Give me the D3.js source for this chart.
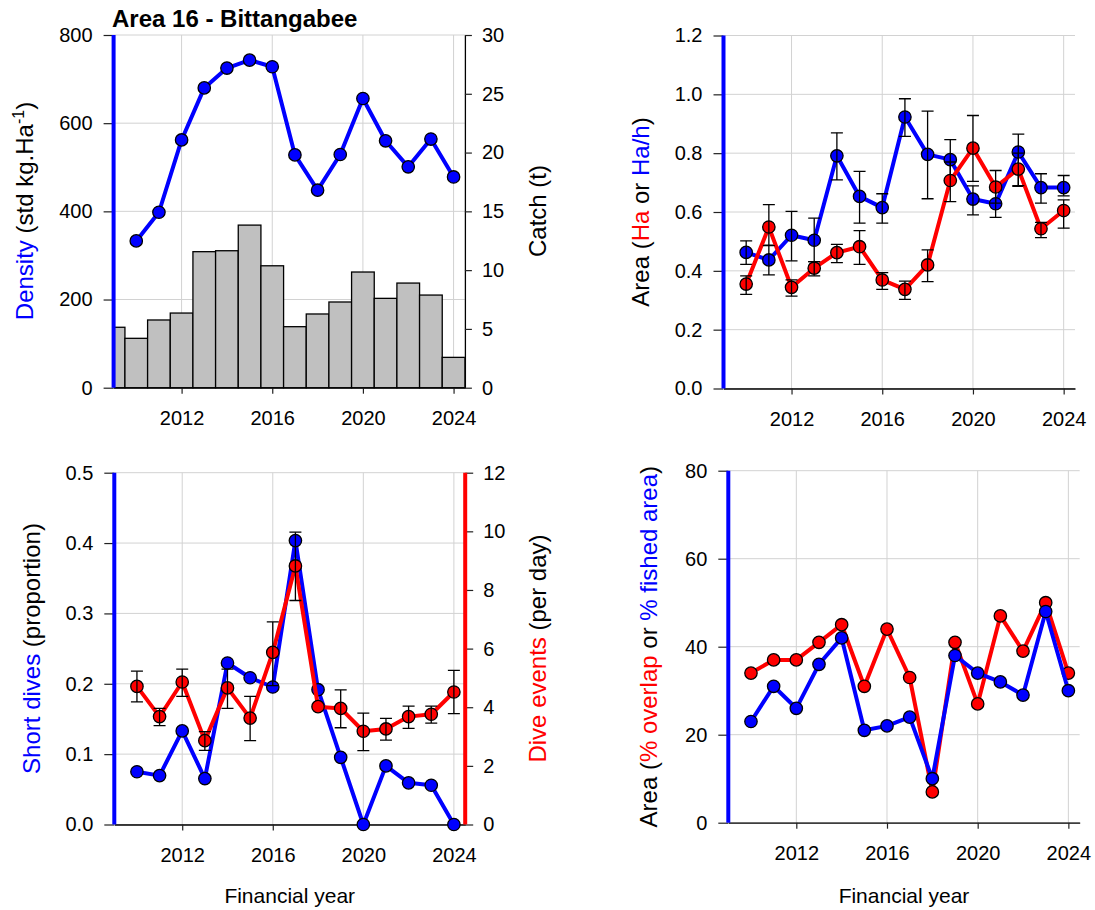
<!DOCTYPE html>
<html lang="en">
<head>
<meta charset="utf-8">
<script src="https://d3js.org/d3.v7.min.js"></script>
<style>
  body { margin: 0; background: #fff; }
  text { font-family: "Liberation Sans", Arial, sans-serif; }
</style>
</head>
<body>
<div id="chart"></div>
<script>
// ---- data ----
const years = [2010, 2011, 2012, 2013, 2014, 2015, 2016, 2017, 2018, 2019, 2020, 2021, 2022, 2023, 2024];
const catchYears = [2009, 2010, 2011, 2012, 2013, 2014, 2015, 2016, 2017, 2018, 2019, 2020, 2021, 2022, 2023, 2024];
const xTicks = [2012, 2016, 2020, 2024];

// top left: density (std kg/Ha) and catch (t)
const density = [333, 398, 562, 680, 725, 743, 728, 528, 448, 529, 656, 560, 501, 564, 478];
const catchT = [5.14, 4.2, 5.76, 6.35, 11.57, 11.65, 13.83, 10.37, 5.19, 6.27, 7.29, 9.84, 7.6, 8.9, 7.88, 2.58];

// top right: area (Ha) and area per hour (Ha/h)
const areaHa   = [0.355, 0.549, 0.344, 0.409, 0.462, 0.482, 0.369, 0.337, 0.420, 0.707, 0.817, 0.685, 0.746, 0.543, 0.605];
const areaHaLo = [0.320, 0.486, 0.314, 0.383, 0.428, 0.422, 0.337, 0.303, 0.363, 0.635, 0.704, 0.630, 0.690, 0.513, 0.545];
const areaHaHi = [0.383, 0.625, 0.369, 0.431, 0.490, 0.537, 0.394, 0.365, 0.471, 0.770, 0.928, 0.741, 0.800, 0.565, 0.641];
const areaHah   = [0.463, 0.437, 0.521, 0.504, 0.791, 0.653, 0.615, 0.923, 0.796, 0.778, 0.644, 0.628, 0.804, 0.683, 0.683];
const areaHahLo = [0.422, 0.386, 0.434, 0.431, 0.709, 0.562, 0.562, 0.857, 0.645, 0.708, 0.590, 0.582, 0.687, 0.630, 0.655];
const areaHahHi = [0.502, 0.487, 0.602, 0.579, 0.869, 0.738, 0.662, 0.985, 0.943, 0.846, 0.689, 0.674, 0.865, 0.730, 0.724];

// bottom left: short dives (proportion) and dive events (per day)
const shortDives = [0.075, 0.0695, 0.133, 0.0653, 0.2295, 0.2086, 0.1954, 0.4035, 0.1916, 0.0955, 0.0, 0.0833, 0.0592, 0.0558, 0.0];
const diveEvents   = [4.71, 3.68, 4.86, 2.86, 4.66, 3.63, 5.87, 8.82, 4.02, 3.96, 3.18, 3.26, 3.68, 3.76, 4.52];
const diveEventsLo = [4.18, 3.37, 4.37, 2.53, 3.96, 2.86, 4.74, 7.64, 4.02, 3.30, 2.52, 2.88, 3.28, 3.46, 3.78];
const diveEventsHi = [5.23, 3.96, 5.30, 3.17, 5.30, 4.37, 6.91, 9.97, 4.02, 4.59, 3.80, 3.62, 4.04, 4.04, 5.26];

// bottom right: % overlap and % fished area
const overlapPct = [34, 37, 37, 41, 45, 31, 44, 33, 7, 41, 27, 47, 39, 50, 34];
const fishedPct  = [23, 31, 26, 36, 42, 21, 22, 24, 10, 38, 34, 32, 29, 48, 30];

// ---- setup ----
const BLUE = "#0000ff", RED = "#ff0000";
const svg = d3.select("#chart").append("svg")
  .attr("width", 1095).attr("height", 910);

function panel(o) {
  const x = d3.scaleLinear().domain([2009, 2024.5]).range([o.left, o.right]);
  const y = d3.scaleLinear().domain(o.yDomain).range([o.bottom, o.top]);
  const g = svg.append("g");

  // grid
  g.append("g").selectAll("line").data(o.yTicks).enter().append("line")
    .attr("x1", o.left).attr("x2", o.right)
    .attr("y1", d => y(d)).attr("y2", d => y(d))
    .attr("stroke", "#d2d2d2").attr("stroke-width", 1);
  g.append("g").selectAll("line").data(xTicks).enter().append("line")
    .attr("x1", d => x(d)).attr("x2", d => x(d))
    .attr("y1", o.top).attr("y2", o.bottom)
    .attr("stroke", "#d2d2d2").attr("stroke-width", 1);

  // clip for marks
  const cid = "clip" + o.id;
  svg.append("clipPath").attr("id", cid).append("rect")
    .attr("x", o.left).attr("y", o.top - 10)
    .attr("width", o.right - o.left).attr("height", o.bottom - o.top + 20);

  // left axis
  const la = g.append("g").attr("transform", `translate(${o.left},0)`)
    .call(d3.axisLeft(y).tickValues(o.yTicks).tickSize(10).tickPadding(11).tickFormat(o.fmt));
  styleAxis(la);
  la.select(".domain").remove();

  // bottom axis
  const ba = g.append("g").attr("transform", `translate(0,${o.bottom})`)
    .call(d3.axisBottom(x).tickValues(xTicks).tickSize(6).tickPadding(17).tickSizeOuter(0).tickFormat(d3.format("d")));
  styleAxis(ba);
  ba.select(".domain").attr("stroke", "#000").attr("stroke-width", 1.3);

  const marks = svg.append("g").attr("clip-path", `url(#${cid})`);
  return { x, y, g, marks, o };
}

function styleAxis(a) {
  a.attr("font-size", 20).attr("font-family", '"Liberation Sans", Arial, sans-serif');
  a.selectAll(".tick line").attr("stroke", "#222").attr("stroke-width", 1.2);
  a.selectAll(".tick text").attr("fill", "#000");
}

function leftSpine(p, color) {
  svg.append("line")
    .attr("x1", p.o.left).attr("x2", p.o.left)
    .attr("y1", p.o.top).attr("y2", p.o.bottom)
    .attr("stroke", color).attr("stroke-width", 4);
}

function series(p, y, vals, color, lo, hi) {
  const layer = p.marks.append("g");
  const line = d3.line().x((d, i) => p.x(years[i])).y(d => y(d));
  layer.append("path").datum(vals)
    .attr("d", line).attr("fill", "none")
    .attr("stroke", color).attr("stroke-width", 4).attr("stroke-linejoin", "round");
  layer.selectAll("circle").data(vals).enter().append("circle")
    .attr("cx", (d, i) => p.x(years[i])).attr("cy", d => y(d)).attr("r", 6.2)
    .attr("fill", color).attr("stroke", "#000").attr("stroke-width", 1.3);
  if (lo) {
    const eb = layer.append("g").attr("stroke", "#000").attr("stroke-width", 1.3);
    years.forEach((yr, i) => {
      if (hi[i] - lo[i] < 0.001 * (y.domain()[1] - y.domain()[0])) return;
      const cx = p.x(yr);
      eb.append("line").attr("x1", cx).attr("x2", cx).attr("y1", y(lo[i])).attr("y2", y(hi[i]));
      eb.append("line").attr("x1", cx - 6).attr("x2", cx + 6).attr("y1", y(lo[i])).attr("y2", y(lo[i]));
      eb.append("line").attr("x1", cx - 6).attr("x2", cx + 6).attr("y1", y(hi[i])).attr("y2", y(hi[i]));
    });
  }
  return layer;
}

function yTitle(cx, cy, parts, rotate) {
  const t = svg.append("text")
    .attr("transform", `translate(${cx},${cy}) rotate(${rotate || -90})`)
    .attr("text-anchor", "middle").attr("font-size", 24);
  parts.forEach(pt => {
    const s = t.append("tspan").text(pt.t).attr("fill", pt.c || "#000");
    if (pt.sup) s.attr("font-size", 16).attr("dy", -9);
    if (pt.down) s.attr("dy", 9);
  });
  return t;
}

function xTitle(p) {
  svg.append("text")
    .attr("x", (p.o.left + p.o.right) / 2).attr("y", 903)
    .attr("text-anchor", "middle").attr("font-size", 21)
    .text("Financial year");
}

// ---- top left ----
const tl = panel({ id: "tl", left: 113.6, right: 464.9, top: 35, bottom: 387.7,
  yDomain: [0, 800], yTicks: [0, 200, 400, 600, 800], fmt: d3.format("d") });
const yCatch = d3.scaleLinear().domain([0, 30]).range([387.7, 35]);
tl.marks.append("g").selectAll("rect").data(catchT).enter().append("rect")
  .attr("x", (d, i) => tl.x(catchYears[i] - 0.5))
  .attr("width", tl.x(2010) - tl.x(2009))
  .attr("y", d => yCatch(d))
  .attr("height", d => yCatch(0) - yCatch(d))
  .attr("fill", "#c0c0c0").attr("stroke", "#000").attr("stroke-width", 1.3);
series(tl, tl.y, density, BLUE);
const ra = svg.append("g").attr("transform", "translate(464.9,0)")
  .call(d3.axisRight(yCatch).tickValues([0, 5, 10, 15, 20, 25, 30]).tickSize(7).tickPadding(10).tickSizeOuter(0));
styleAxis(ra);
ra.select(".domain").attr("stroke", "#000").attr("stroke-width", 1.3);
leftSpine(tl, BLUE);
yTitle(33, 211, [{ t: "Density", c: BLUE }, { t: " (std kg.Ha" }, { t: "-1", sup: true }, { t: ")", down: true }]);
yTitle(546, 211, [{ t: "Catch (t)" }]);
svg.append("text").attr("x", 112).attr("y", 27)
  .attr("font-size", 24).attr("font-weight", "bold")
  .text("Area 16 - Bittangabee");

// ---- top right ----
const tr = panel({ id: "tr", left: 723.5, right: 1075, top: 35.5, bottom: 388.5,
  yDomain: [0, 1.2], yTicks: [0, 0.2, 0.4, 0.6, 0.8, 1.0, 1.2], fmt: d3.format(".1f") });
series(tr, tr.y, areaHah, BLUE, areaHahLo, areaHahHi);
series(tr, tr.y, areaHa, RED, areaHaLo, areaHaHi);
leftSpine(tr, BLUE);
yTitle(649, 212, [{ t: "Area (" }, { t: "Ha", c: RED }, { t: " or " }, { t: "Ha/h", c: BLUE }, { t: ")" }]);

// ---- bottom left ----
const bl = panel({ id: "bl", left: 114.3, right: 465.2, top: 472.7, bottom: 824.5,
  yDomain: [0, 0.5], yTicks: [0, 0.1, 0.2, 0.3, 0.4, 0.5], fmt: d3.format(".1f") });
const yDive = d3.scaleLinear().domain([0, 12]).range([824.5, 472.7]);
series(bl, bl.y, shortDives, BLUE);
series(bl, yDive, diveEvents, RED, diveEventsLo, diveEventsHi);
const ra2 = svg.append("g").attr("transform", "translate(465.2,0)")
  .call(d3.axisRight(yDive).tickValues([0, 2, 4, 6, 8, 10, 12]).tickSize(8).tickPadding(10).tickSizeOuter(0));
styleAxis(ra2);
ra2.select(".domain").remove();
svg.append("line").attr("x1", 465.2).attr("x2", 465.2).attr("y1", 472.7).attr("y2", 824.5)
  .attr("stroke", RED).attr("stroke-width", 4);
leftSpine(bl, BLUE);
yTitle(40, 648.5, [{ t: "Short dives", c: BLUE }, { t: " (proportion)" }]);
yTitle(546, 648.5, [{ t: "Dive events", c: RED }, { t: " (per day)" }]);
xTitle(bl);

// ---- bottom right ----
const br = panel({ id: "br", left: 728.3, right: 1079.7, top: 470.7, bottom: 822.7,
  yDomain: [0, 80], yTicks: [0, 20, 40, 60, 80], fmt: d3.format("d") });
series(br, br.y, overlapPct, RED);
series(br, br.y, fishedPct, BLUE);
leftSpine(br, BLUE);
yTitle(657, 646.7, [{ t: "Area (" }, { t: "% overlap", c: RED }, { t: " or " }, { t: "% fished area", c: BLUE }, { t: ")" }]);
xTitle(br);
</script>
</body>
</html>
